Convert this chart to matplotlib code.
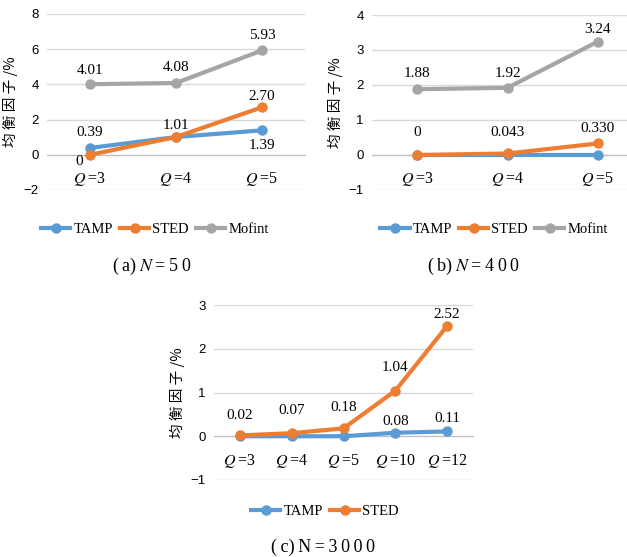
import matplotlib.pyplot as plt
from matplotlib.lines import Line2D

plt.rcParams['mathtext.fontset'] = 'stix'

cjk = ['Noto Sans CJK SC', 'DejaVu Sans']
serif = 'Liberation Serif'
sans = 'Liberation Sans'

# series colours (Excel default palette)
c_tamp = '#5B9BD5'
c_sted = '#ED7D31'
c_mof = '#A5A5A5'

# (a) N=50
cats_a = ['$Q$\u2009=3', '$Q$\u2009=4', '$Q$\u2009=5']
tamp_a = [0.39, 1.01, 1.39]
sted_a = [0, 1.01, 2.70]
mof_a = [4.01, 4.08, 5.93]

# (b) N=400
cats_b = ['$Q$\u2009=3', '$Q$\u2009=4', '$Q$\u2009=5']
tamp_b = [0, 0, 0]
sted_b = [0, 0.043, 0.330]
mof_b = [1.88, 1.92, 3.24]
sted_b_lbl = ['0', '0.043', '0.330']

# (c) N=3000
cats_c = ['$Q$\u2009=3', '$Q$\u2009=4', '$Q$\u2009=5', '$Q$\u2009=10', '$Q$\u2009=12']
tamp_c = [0, 0, 0, 0.08, 0.11]
sted_c = [0.02, 0.07, 0.18, 1.04, 2.52]

W, H = 627, 557
fig = plt.figure(figsize=(W / 100, H / 100), dpi=100)


def px_axes(x0, x1, y0, y1):
    return fig.add_axes([x0 / W, 1 - y1 / H, (x1 - x0) / W, (y1 - y0) / H])


def style(ax, cats, ylim, step):
    n = len(cats)
    ax.set_xlim(-0.5, n - 0.5)
    ax.set_ylim(*ylim)
    ticks = []
    v = ylim[0]
    while v <= ylim[1] + 1e-9:
        ticks.append(v)
        v += step
    ax.set_yticks(ticks)
    ax.set_yticklabels([str(int(t)).replace('-', '\u2212') for t in ticks],
                       fontfamily=sans, fontsize=9.5)
    ax.grid(axis='y', color='#D9D9D9', lw=1)
    ax.set_axisbelow(True)
    for s in ['top', 'right', 'left']:
        ax.spines[s].set_visible(False)
    ax.spines['bottom'].set_position(('data', 0))
    ax.spines['bottom'].set_color('#BFBFBF')
    ax.set_xticks(range(n))
    ax.set_xticklabels(cats, fontsize=11.5, fontfamily=serif)
    ax.tick_params(axis='x', length=0, pad=11)
    ax.tick_params(axis='y', length=0, pad=6)
    ax.set_ylabel('均 衡 因 子 /%', fontfamily=cjk, fontsize=10.5, labelpad=4)


def line(ax, y, c):
    ax.plot(range(len(y)), y, color=c, lw=3, marker='o', ms=6.5, zorder=3)


def lbl(ax, x, y, s, dy=9, dx=0):
    ax.annotate(s, (x, y), xytext=(dx, dy), textcoords='offset points',
                ha='center', va='center', fontfamily=serif, fontsize=11)


def legend(ax, names, colors, x, y):
    handles = [Line2D([], [], color=c, lw=3, marker='o', ms=6.5) for c in colors]
    fig.legend(handles, names, loc='center', bbox_to_anchor=(x / W, 1 - y / H),
               ncol=len(names), frameon=False, handlelength=2.0, columnspacing=0.5,
               handletextpad=0.2, prop={'family': serif, 'size': 10.5})


def caption(x, y, s):
    fig.text(x / W, 1 - y / H, s, ha='center', va='center',
             fontfamily=serif, fontsize=13)


# panel a
ax = px_axes(47, 305, 14, 190)
style(ax, cats_a, (-2, 8), 2)
line(ax, tamp_a, c_tamp)
line(ax, sted_a, c_sted)
line(ax, mof_a, c_mof)
lbl(ax, 0, mof_a[0], '4.01', 10)
lbl(ax, 1, mof_a[1], '4.08', 11.5)
lbl(ax, 2, mof_a[2], '5.93', 11)
lbl(ax, 0, tamp_a[0], '0.39', 11)
lbl(ax, 0, sted_a[0], '0', -5, -8)
lbl(ax, 1, sted_a[1], '1.01', 8.5)
lbl(ax, 2, sted_a[2], '2.70', 8)
lbl(ax, 2, tamp_a[2], '1.39', -11)
legend(ax, ['TAMP', 'STED', 'Mofint'], [c_tamp, c_sted, c_mof], 155, 229)
caption(152, 266, '(\u2009a)\u2009$N$\u2009=\u20095\u20090')

# panel b (clipped at right edge like the original)
ax = px_axes(372, 643, 15, 190)
style(ax, cats_b, (-1, 4), 1)
line(ax, tamp_b, c_tamp)
line(ax, sted_b, c_sted)
line(ax, mof_b, c_mof)
lbl(ax, 0, mof_b[0], '1.88', 11.5)
lbl(ax, 1, mof_b[1], '1.92', 10.5)
lbl(ax, 2, mof_b[2], '3.24', 8.5)
lbl(ax, 0, sted_b[0], sted_b_lbl[0], 16)
lbl(ax, 1, sted_b[1], sted_b_lbl[1], 15)
lbl(ax, 2, sted_b[2], sted_b_lbl[2], 11)
legend(ax, ['TAMP', 'STED', 'Mofint'], [c_tamp, c_sted, c_mof], 494, 229)
caption(474, 266, '(\u2009b)\u2009$N$\u2009=\u20094\u20090\u20090')

# panel c
ax = px_axes(214, 473, 305, 480)
style(ax, cats_c, (-1, 3), 1)
line(ax, tamp_c, c_tamp)
line(ax, sted_c, c_sted)
lbl(ax, 0, sted_c[0], '0.02', 14.5)
lbl(ax, 1, sted_c[1], '0.07', 16.5)
lbl(ax, 2, sted_c[2], '0.18', 15)
lbl(ax, 3, sted_c[3], '1.04', 16.5)
lbl(ax, 4, sted_c[4], '2.52', 8.5)
lbl(ax, 3, tamp_c[3], '0.08', 8)
lbl(ax, 4, tamp_c[4], '0.11', 9.5)
legend(ax, ['TAMP', 'STED'], [c_tamp, c_sted], 325, 511)
caption(323, 547, '(\u2009c)\u2009N\u2009=\u20093\u20090\u20090\u20090')

fig.savefig('out.png', dpi=100)
